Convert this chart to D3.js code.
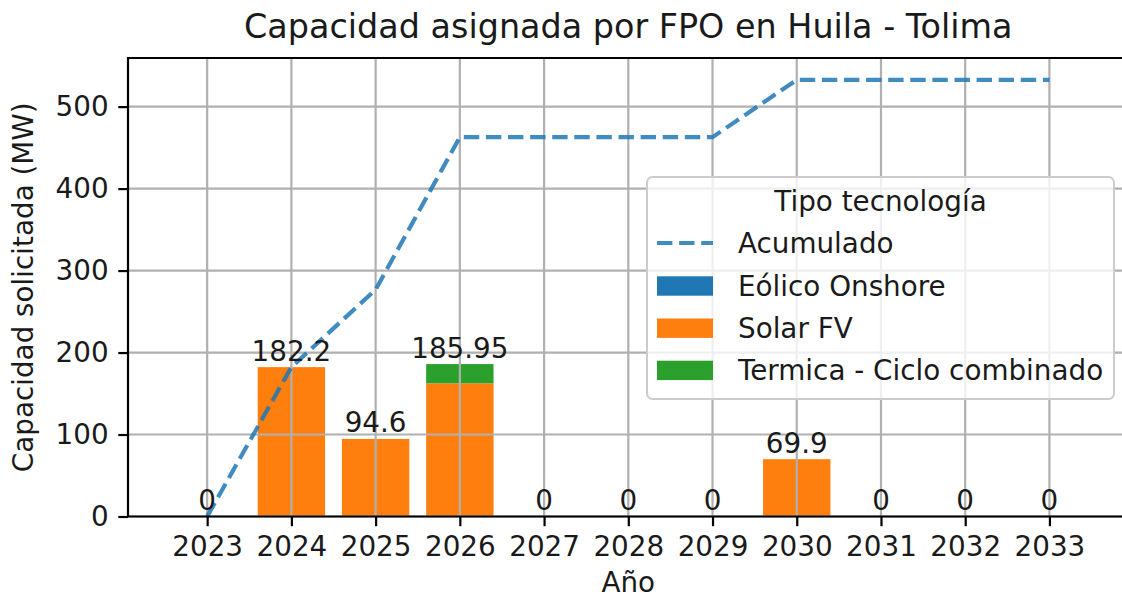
<!DOCTYPE html>
<meta charset="utf-8">
<title>Capacidad asignada por FPO en Huila - Tolima</title>
<script src="https://cdn.jsdelivr.net/npm/d3@7"></script>
<style>
html, body {
    margin: 0;
    background: #fff;
}
svg {
    display: block;
    font-family: "DejaVu Sans", sans-serif;
}
</style>
<body>
<svg></svg>
<script>
var years = [2023, 2024, 2025, 2026, 2027, 2028, 2029, 2030, 2031, 2032, 2033];
var eolico = [0, 0, 0, 0, 0, 0, 0, 0, 0, 0, 0];
var solar = [0, 182.2, 94.6, 162.45, 0, 0, 0, 69.9, 0, 0, 0];
var termica = [0, 0, 0, 23.5, 0, 0, 0, 0, 0, 0, 0];
var acumulado = [0, 182.2, 276.8, 462.75, 462.75, 462.75, 462.75, 532.65, 532.65, 532.65, 532.65];
var seriesNames = ["Eólico Onshore", "Solar FV", "Termica - Ciclo combinado"];
var seriesColors = ["#1f77b4", "#ff7f0e", "#2ca02c"];
var yTicks = [0, 100, 200, 300, 400, 500];

var width = 1122,
    height = 598,
    fs = 27.8,
    plotL = 128,
    plotR = 1128.6,
    plotT = 58,
    plotB = 516.5,
    tick = 9.7,
    barW = 0.8;

var svg = d3.select("svg")
    .attr("width", width)
    .attr("height", height);

svg.append("rect")
    .attr("width", width)
    .attr("height", height)
    .attr("fill", "#fff");

var x = d3.scaleLinear().domain([2022.06, 2033.94]).range([plotL, plotR]);
var y = d3.scaleLinear().domain([0, 559.3]).range([plotB, plotT]);

var rows = years.map(function(yr, i) {
    return {year: yr, e: eolico[i], s: solar[i], t: termica[i]};
});
var stack = d3.stack().keys(["e", "s", "t"])(rows);

// bars
svg.append("g").selectAll("g")
    .data(stack)
    .enter().append("g")
    .attr("fill", function(d, i) { return seriesColors[i]; })
    .selectAll("rect")
    .data(function(d) { return d; })
    .enter().append("rect")
    .attr("x", function(d) { return x(d.data.year - barW / 2); })
    .attr("width", function(d) { return x(d.data.year + barW / 2) - x(d.data.year - barW / 2); })
    .attr("y", function(d) { return y(d[1]); })
    .attr("height", function(d) { return y(d[0]) - y(d[1]); });

// grid
var grid = svg.append("g")
    .attr("stroke", "#b0b0b0")
    .attr("stroke-width", 2.2);

grid.selectAll(".gx")
    .data(years)
    .enter().append("line")
    .attr("x1", x).attr("x2", x)
    .attr("y1", plotT).attr("y2", plotB);

grid.selectAll(".gy")
    .data(yTicks)
    .enter().append("line")
    .attr("x1", plotL).attr("x2", plotR)
    .attr("y1", y).attr("y2", y);

// acumulado line
var line = d3.line()
    .x(function(d, i) { return x(years[i]); })
    .y(function(d) { return y(d); });

svg.append("path")
    .datum(acumulado)
    .attr("d", line)
    .attr("fill", "none")
    .attr("stroke", "#1f77b4")
    .attr("stroke-opacity", 0.85)
    .attr("stroke-width", 4.2)
    .attr("stroke-dasharray", "15.4,6.7");

// axes
var xAxis = svg.append("g")
    .attr("transform", "translate(0," + plotB + ")")
    .call(d3.axisBottom(x).tickValues(years).tickFormat(d3.format("d"))
        .tickSize(tick).tickPadding(tick));

var yAxis = svg.append("g")
    .attr("transform", "translate(" + plotL + ",0)")
    .call(d3.axisLeft(y).tickValues(yTicks).tickSize(tick).tickPadding(tick));

[xAxis, yAxis].forEach(function(a) {
    a.select(".domain").remove();
    a.selectAll("line").attr("stroke", "#000").attr("stroke-width", 2.2);
    a.selectAll("text")
        .attr("fill", "#1a1a1a")
        .style("font-size", fs + "px")
        .style("font-family", "DejaVu Sans");
});

// spines
svg.append("path")
    .attr("d", "M" + plotR + "," + plotT + "H" + plotL + "V" + plotB + "H" + plotR)
    .attr("fill", "none")
    .attr("stroke", "#000")
    .attr("stroke-width", 2.2);

// bar labels
var tops = stack[stack.length - 1];
svg.append("g").selectAll("text")
    .data(tops)
    .enter().append("text")
    .attr("x", function(d) { return x(d.data.year); })
    .attr("y", function(d) { return y(d[1]) - 6.5; })
    .attr("text-anchor", "middle")
    .attr("fill", "#1a1a1a")
    .style("font-size", fs + "px")
    .text(function(d) { return Math.round(d[1] * 100) / 100; });

// titles
svg.append("text")
    .attr("x", (plotL + plotR) / 2)
    .attr("y", 38)
    .attr("text-anchor", "middle")
    .attr("fill", "#1a1a1a")
    .style("font-size", "33.4px")
    .text("Capacidad asignada por FPO en Huila - Tolima");

svg.append("text")
    .attr("x", (plotL + plotR) / 2)
    .attr("y", 592)
    .attr("text-anchor", "middle")
    .attr("fill", "#1a1a1a")
    .style("font-size", fs + "px")
    .text("Año");

svg.append("text")
    .attr("transform", "translate(33," + (plotT + plotB) / 2 + ")rotate(-90)")
    .attr("text-anchor", "middle")
    .attr("fill", "#1a1a1a")
    .style("font-size", fs + "px")
    .text("Capacidad solicitada (MW)");

// legend
var lg = svg.append("g");

lg.append("rect")
    .attr("x", 647).attr("y", 177)
    .attr("width", 467).attr("height", 222)
    .attr("rx", 5.5)
    .attr("fill", "#fff").attr("fill-opacity", 0.8)
    .attr("stroke", "#cccccc").attr("stroke-width", 2);

lg.append("text")
    .attr("x", 880.5).attr("y", 211)
    .attr("text-anchor", "middle")
    .attr("fill", "#1a1a1a")
    .style("font-size", fs + "px")
    .text("Tipo tecnología");

lg.append("line")
    .attr("x1", 657).attr("x2", 713)
    .attr("y1", 243).attr("y2", 243)
    .attr("stroke", "#1f77b4")
    .attr("stroke-opacity", 0.85)
    .attr("stroke-width", 4.2)
    .attr("stroke-dasharray", "15.4,6.7");

lg.append("text")
    .attr("x", 738).attr("y", 252.5)
    .attr("fill", "#1a1a1a")
    .style("font-size", fs + "px")
    .text("Acumulado");

var items = lg.selectAll(".item")
    .data(seriesNames)
    .enter().append("g")
    .attr("transform", function(d, i) { return "translate(0," + (286 + i * 42.2) + ")"; });

items.append("rect")
    .attr("x", 657).attr("y", -9.7)
    .attr("width", 56).attr("height", 19.4)
    .attr("fill", function(d, i) { return seriesColors[i]; });

items.append("text")
    .attr("x", 738).attr("y", 9.5)
    .attr("fill", "#1a1a1a")
    .style("font-size", fs + "px")
    .text(function(d) { return d; });
</script>
